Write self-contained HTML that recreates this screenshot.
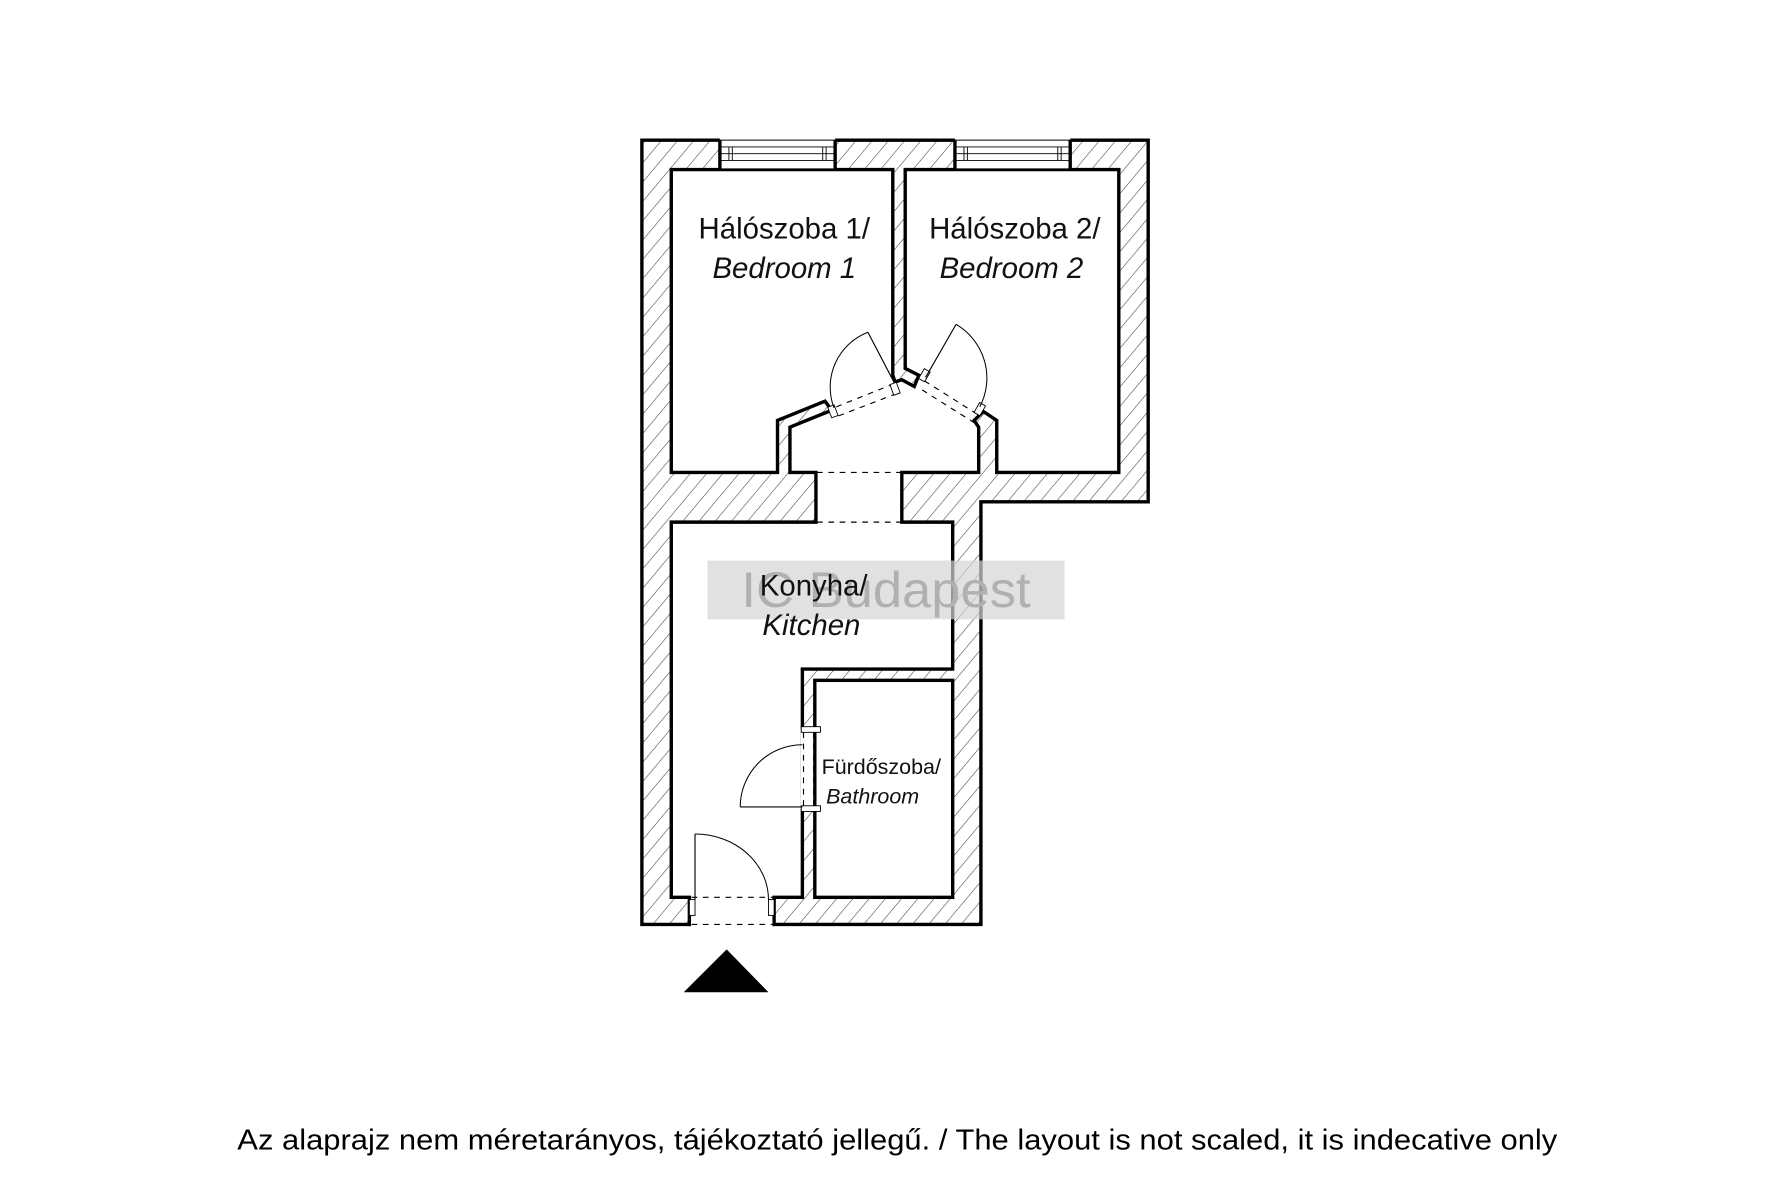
<!DOCTYPE html>
<html><head><meta charset="utf-8"><style>
html,body{margin:0;padding:0;background:#fff;}
svg{display:block;}
text{font-family:"Liberation Sans",sans-serif;}
</style></head><body>
<svg width="1772" height="1181" viewBox="0 0 1568 1045" preserveAspectRatio="none" xmlns="http://www.w3.org/2000/svg">
<defs>
<pattern id="h" patternUnits="userSpaceOnUse" width="11" height="11" patternTransform="rotate(40)">
<rect width="11" height="11" fill="#fff"/>
<line x1="0" y1="0" x2="0" y2="11" stroke="#444" stroke-width="1"/>
</pattern>
</defs>
<rect width="1568" height="1045" fill="#fff"/>
<polygon points="568,124 1016,124 1016,444 868,444 868,818 568,818" fill="url(#h)" stroke="#000" stroke-width="3"/>
<polygon points="594,150 790,150 790,332 792,338 798,336 809,342 813,332 801,326 801,150 990,150 990,418 882,418 882,372 870,364 862,372 866,378 866,418 798,418 798,462 843,462 843,592 710,592 710,794 685,794 685,818 610,818 610,794 594,794 594,462 722,462 722,418 699,418 699,378 736,363 730,355 688,372 688,418 594,418" fill="#fff" stroke="#000" stroke-width="3" stroke-linejoin="miter"/>
<rect x="721" y="602" width="122" height="192" fill="#fff" stroke="#000" stroke-width="3"/>
<rect x="708.5" y="645" width="11" height="71" fill="#fff"/>
<rect x="709" y="643" width="17" height="5" fill="#fff" stroke="#000" stroke-width="0.8"/>
<rect x="709" y="713" width="17" height="5" fill="#fff" stroke="#000" stroke-width="0.8"/>
<line x1="711" y1="648" x2="711" y2="713" stroke="#000" stroke-width="1" stroke-dasharray="5,5"/>
<line x1="720" y1="648" x2="720" y2="713" stroke="#000" stroke-width="1" stroke-dasharray="5,5"/>
<line x1="655" y1="714" x2="710" y2="714" stroke="#000" stroke-width="1"/>
<path d="M655,714 A55,55 0 0 1 710,659" fill="none" stroke="#000" stroke-width="0.9"/>
<rect x="611.5" y="815" width="72" height="6" fill="#fff"/>
<line x1="612" y1="794" x2="684" y2="794" stroke="#000" stroke-width="1" stroke-dasharray="5,5"/>
<line x1="612" y1="818" x2="684" y2="818" stroke="#000" stroke-width="1" stroke-dasharray="5,5"/>
<rect x="610" y="796" width="5" height="14" fill="#fff" stroke="#000" stroke-width="0.8"/>
<rect x="680" y="796" width="5" height="14" fill="#fff" stroke="#000" stroke-width="0.8"/>
<line x1="615" y1="796" x2="615" y2="738" stroke="#000" stroke-width="1"/>
<path d="M615,738 A65,58 0 0 1 680,796" fill="none" stroke="#000" stroke-width="0.9"/>
<line x1="723" y1="418" x2="797" y2="418" stroke="#000" stroke-width="1" stroke-dasharray="5,5"/>
<line x1="723" y1="462" x2="797" y2="462" stroke="#000" stroke-width="1" stroke-dasharray="5,5"/>
<line x1="740" y1="360" x2="790" y2="340" stroke="#000" stroke-width="1" stroke-dasharray="5,5"/>
<line x1="742" y1="368" x2="794" y2="348" stroke="#000" stroke-width="1" stroke-dasharray="5,5"/>
<rect x="734" y="359" width="6" height="10" fill="#fff" stroke="#000" stroke-width="0.8" transform="rotate(-20 737 364)"/>
<rect x="789" y="339" width="6" height="10" fill="#fff" stroke="#000" stroke-width="0.8" transform="rotate(-20 792 344)"/>
<line x1="791" y1="338" x2="768" y2="294" stroke="#000" stroke-width="1"/>
<path d="M768,294 A52,52 0 0 0 738,361" fill="none" stroke="#000" stroke-width="0.9"/>
<line x1="818" y1="337" x2="864" y2="366" stroke="#000" stroke-width="1" stroke-dasharray="5,5"/>
<line x1="816" y1="345" x2="862" y2="374" stroke="#000" stroke-width="1" stroke-dasharray="5,5"/>
<rect x="815" y="327" width="6" height="10" fill="#fff" stroke="#000" stroke-width="0.8" transform="rotate(30 818 332)"/>
<rect x="864" y="357" width="6" height="10" fill="#fff" stroke="#000" stroke-width="0.8" transform="rotate(30 867 362)"/>
<line x1="819" y1="334" x2="846" y2="287" stroke="#000" stroke-width="1"/>
<path d="M846,287 A55,55 0 0 1 867,360" fill="none" stroke="#000" stroke-width="0.9"/>
<g stroke="#000" stroke-width="0.8">
<rect x="637" y="122" width="102" height="27" fill="#fff" stroke="none"/>
<line x1="637" y1="124" x2="739" y2="124"/><line x1="637" y1="130" x2="739" y2="130"/><line x1="637" y1="136" x2="739" y2="136"/><line x1="637" y1="142" x2="739" y2="142"/>
<line x1="645" y1="130" x2="645" y2="142"/><line x1="648" y1="130" x2="648" y2="142"/><line x1="728" y1="130" x2="728" y2="142"/><line x1="731" y1="130" x2="731" y2="142"/>
<rect x="845" y="122" width="102" height="27" fill="#fff" stroke="none"/>
<line x1="845" y1="124" x2="947" y2="124"/><line x1="845" y1="130" x2="947" y2="130"/><line x1="845" y1="136" x2="947" y2="136"/><line x1="845" y1="142" x2="947" y2="142"/>
<line x1="853" y1="130" x2="853" y2="142"/><line x1="856" y1="130" x2="856" y2="142"/><line x1="936" y1="130" x2="936" y2="142"/><line x1="939" y1="130" x2="939" y2="142"/>
</g>
<line x1="637" y1="150" x2="739" y2="150" stroke="#000" stroke-width="1"/>
<line x1="845" y1="150" x2="947" y2="150" stroke="#000" stroke-width="1"/>
<line x1="637" y1="124" x2="637" y2="150" stroke="#000" stroke-width="3"/>
<line x1="739" y1="124" x2="739" y2="150" stroke="#000" stroke-width="3"/>
<line x1="845" y1="124" x2="845" y2="150" stroke="#000" stroke-width="3"/>
<line x1="947" y1="124" x2="947" y2="150" stroke="#000" stroke-width="3"/>
<rect x="626" y="496" width="316" height="52" fill="#d4d4d4" opacity="0.7"/>
<text x="784" y="537" font-size="44" fill="#b0b0b0" text-anchor="middle" textLength="256" lengthAdjust="spacingAndGlyphs">IC Budapest</text>
<g font-size="26" fill="#111" text-anchor="middle">
<text x="694" y="211">Hálószoba 1/</text>
<text x="694" y="246" font-style="italic">Bedroom 1</text>
<text x="898" y="211">Hálószoba 2/</text>
<text x="895" y="246" font-style="italic">Bedroom 2</text>
<text x="720" y="527">Konyha/</text>
<text x="718" y="562" font-style="italic">Kitchen</text>
</g>
<text x="727" y="685" font-size="19" fill="#111">Fürdőszoba/</text>
<text x="731" y="711" font-size="19" fill="#111" font-style="italic">Bathroom</text>
<polygon points="605,878 680,878 643,840" fill="#000"/>
<text x="794" y="1017" font-size="25" fill="#000" text-anchor="middle" textLength="1168" lengthAdjust="spacingAndGlyphs">Az alaprajz nem méretarányos, tájékoztató jellegű. / The layout is not scaled, it is indecative only</text>
</svg>
</body></html>
